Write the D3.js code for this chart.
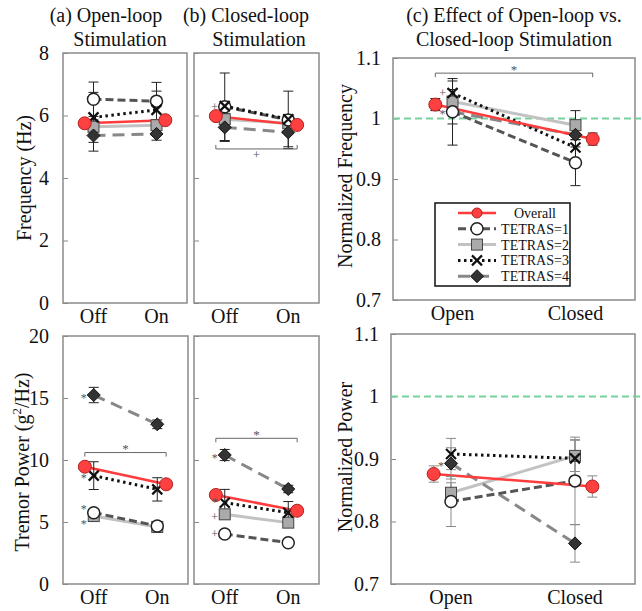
<!DOCTYPE html>
<html><head><meta charset="utf-8">
<script src="https://cdn.jsdelivr.net/npm/d3@7"></script>
<style>
body{margin:0;background:#fff}
svg{display:block}
</style>
</head><body>
<svg id="chart" width="642" height="611" font-family="'Liberation Serif', 'Times New Roman', Times, 'DejaVu Serif', serif"></svg>
<script>
// ---------------- DATA ----------------
const seriesNames = ["Overall", "TETRAS=1", "TETRAS=2", "TETRAS=3", "TETRAS=4"];
const stimCats = ["Off", "On"];
const loopCats = ["Open", "Closed"];
const freqTicks = [0, 2, 4, 6, 8];
const powerTicks = [0, 5, 10, 15, 20];
const normTicks = [0.7, 0.8, 0.9, 1.0, 1.1];

// values: [series][category]
const freqOpenVals   = [[5.75, 5.85], [6.52, 6.46], [5.64, 5.69], [5.94, 6.18], [5.36, 5.41]];
const freqOpenErr    = [[0, 0], [0.55, 0.6], [0.1, 0.1], [0.8, 0.6], [0.5, 0.2]];
const freqClosedVals = [[5.98, 5.70], [6.28, 5.86], [5.88, 5.75], [6.30, 5.88], [5.62, 5.46]];
const freqClosedErr  = [[0, 0], [1.08, 0.92], [0.1, 0.1], [0.15, 0.15], [0.45, 0.46]];
const freqNormVals   = [[1.023, 0.966], [1.011, 0.927], [1.028, 0.989], [1.042, 0.952], [1.011, 0.973]];
const freqNormErr    = [[0.01, 0.01], [0.055, 0.038], [0.02, 0.024], [0.02, 0.02], [0.02, 0.02]];

const powOpenVals    = [[9.46, 8.04], [5.75, 4.68], [5.48, 4.60], [8.74, 7.63], [15.24, 12.88]];
const powOpenErr     = [[0, 0], [0.2, 0.15], [0.15, 0.15], [1.12, 0.94], [0.62, 0.35]];
const powClosedVals  = [[7.18, 5.91], [4.03, 3.33], [5.62, 4.95], [6.56, 5.75], [10.40, 7.66]];
const powClosedErr   = [[0, 0], [0.15, 0.15], [0.1, 0.1], [1.07, 0.9], [0.45, 0.3]];
const powNormVals    = [[0.876, 0.856], [0.832, 0.865], [0.846, 0.905], [0.908, 0.901], [0.893, 0.765]];
const powNormErr     = [[0.013, 0.017], [0.04, 0.07], [0.016, 0.025], [0.025, 0.03], [0.025, 0.03]];

// significance marks next to a point: [symbol, series index, category index]
const freqClosedMarks = [["+", 1, 0]];
const freqNormMarks   = [["+", 3, 0], ["*", 1, 0]];
const powOpenMarks    = [["*", 4, 0], ["*", 3, 0], ["*", 1, 0], ["*", 2, 0]];
const powClosedMarks  = [["*", 4, 0], ["*", 3, 0], ["+", 2, 0], ["+", 1, 0]];
const powNormMarks    = [["*", 4, 0]];

// brackets: [symbol, y value, direction]
const freqClosedBracket = ["+", 4.93, "below"];
const freqNormBracket   = ["*", 1.075, "above"];
const powOpenBracket    = ["*", 10.6, "above"];
const powClosedBracket  = ["*", 11.75, "above"];

// ---------------- STYLES ----------------
const FONT = "'Liberation Serif', 'Times New Roman', Times, 'DejaVu Serif', serif";
const styles = [
  {color: "#ff3b3b", width: 2.5, dash: null, marker: "bigcircle"},
  {color: "#555555", width: 3, dash: "8,4", marker: "circle"},
  {color: "#c2c2c2", width: 3, dash: null, marker: "square"},
  {color: "#111111", width: 3, dash: "2.5,3.5", marker: "cross"},
  {color: "#888888", width: 3, dash: "12,7", marker: "diamond"}
];
const drawOrder = [2, 4, 1, 3, 0];

const svg = d3.select("#chart");

function txt(parent) {
  return parent.append("text").style("font-family", FONT);
}

function drawMarker(g, type, cx, cy) {
  if (type === "bigcircle") {
    g.append("circle").attr("cx", cx).attr("cy", cy).attr("r", 6.5)
      .attr("fill", "#ff4040").attr("stroke", "#b02020").attr("stroke-width", 1);
  } else if (type === "circle") {
    g.append("circle").attr("cx", cx).attr("cy", cy).attr("r", 6)
      .attr("fill", "#fff").attr("stroke", "#222").attr("stroke-width", 1.5);
  } else if (type === "square") {
    g.append("rect").attr("x", cx - 5.5).attr("y", cy - 5.5).attr("width", 11).attr("height", 11)
      .attr("fill", "#aaaaaa").attr("stroke", "#444").attr("stroke-width", 1);
  } else if (type === "cross") {
    const s = 5;
    g.append("path").attr("d", `M${cx - s},${cy - s}L${cx + s},${cy + s}M${cx - s},${cy + s}L${cx + s},${cy - s}`)
      .attr("stroke", "#111").attr("stroke-width", 2.2).attr("fill", "none");
  } else if (type === "diamond") {
    const s = 6.5;
    g.append("path").attr("d", `M${cx},${cy - s}L${cx + s},${cy}L${cx},${cy + s}L${cx - s},${cy}Z`)
      .attr("fill", "#333").attr("stroke", "#111").attr("stroke-width", 1);
  }
}

function symBaseline(sym, cy) { return cy + (sym === "*" ? 6.5 : 4); }

function panel(cfg) {
  const g = svg.append("g");
  const x = d3.scalePoint().domain(cfg.cats).range([cfg.x0, cfg.x1]).padding(0.484);
  const y = d3.scaleLinear().domain(cfg.domain).range([cfg.y1, cfg.y0]);
  const step = x.step();
  const px = (si, ci) => x(cfg.cats[ci]) + (si === 0 ? (ci === 0 ? -1 : 1) * 0.14 * step : 0);

  // axis
  const ax = d3.axisLeft(y).tickValues(cfg.ticks).tickSizeInner(-5).tickSizeOuter(0)
    .tickPadding(cfg.tickPad).tickFormat(cfg.showLabels ? cfg.fmt : "");
  const ag = g.append("g").attr("transform", `translate(${cfg.x0},0)`).call(ax);
  ag.attr("font-family", null).attr("font-size", null);
  ag.select(".domain").remove();
  ag.selectAll(".tick line").attr("stroke", "#888").attr("stroke-width", 1);
  ag.selectAll(".tick text").attr("font-size", 20).attr("fill", "#111")
    .style("font-family", FONT);

  // frame
  g.append("rect").attr("x", cfg.x0).attr("y", cfg.y0)
    .attr("width", cfg.x1 - cfg.x0).attr("height", cfg.y1 - cfg.y0)
    .attr("fill", "none").attr("stroke", "#8a8a8a").attr("stroke-width", 1.5);

  // reference line
  if (cfg.refLine !== undefined) {
    g.append("line").attr("x1", cfg.x0).attr("x2", 641)
      .attr("y1", y(cfg.refLine)).attr("y2", y(cfg.refLine))
      .attr("stroke", "#74d39c").attr("stroke-width", 2).attr("stroke-dasharray", "7,4");
  }

  // lines
  drawOrder.forEach(si => {
    const st = styles[si];
    const line = d3.line().x((d, ci) => px(si, ci)).y(d => y(d));
    g.append("path").attr("d", line(cfg.vals[si])).attr("fill", "none")
      .attr("stroke", st.color).attr("stroke-width", st.width)
      .attr("stroke-dasharray", st.dash);
  });

  // error bars
  drawOrder.forEach(si => {
    cfg.vals[si].forEach((v, ci) => {
      const e = cfg.errs[si][ci];
      if (!e) return;
      const cx = px(si, ci), ya = y(v - e), yb = y(v + e);
      g.append("path").attr("d", `M${cx},${ya}V${yb}M${cx - 5},${ya}H${cx + 5}M${cx - 5},${yb}H${cx + 5}`)
        .attr("stroke", cfg.errColor).attr("stroke-width", 1).attr("fill", "none");
    });
  });

  // markers
  drawOrder.forEach(si => {
    cfg.vals[si].forEach((v, ci) => drawMarker(g, styles[si].marker, px(si, ci), y(v)));
  });

  // significance marks: baselines spread apart symmetrically when two nearly coincide
  const MIN_GAP = 15;
  const placed = (cfg.marks || []).map(([sym, si, ci]) =>
    ({sym, x: px(si, ci) - 10, b: symBaseline(sym, y(cfg.vals[si][ci]))}));
  for (let i = 0; i < placed.length; i++) {
    for (let j = 0; j < i; j++) {
      const a = placed[j], c = placed[i];
      if (Math.abs(a.x - c.x) < 8 && Math.abs(a.b - c.b) < MIN_GAP) {
        const mid = (a.b + c.b) / 2, sgn = c.b >= a.b ? 1 : -1;
        a.b = mid - sgn * MIN_GAP / 2;
        c.b = mid + sgn * MIN_GAP / 2;
      }
    }
  }
  placed.forEach(p => {
    txt(g).attr("x", p.x).attr("y", p.b)
      .attr("text-anchor", "middle").attr("font-size", 12).attr("fill", "#555").text(p.sym);
  });

  // bracket
  if (cfg.bracket) {
    const [sym, val, dir] = cfg.bracket;
    const xa = px(0, 0), xb = px(0, 1), by = y(val);
    const d = dir === "above" ? 4 : -4;
    g.append("path").attr("d", `M${xa},${by + d}V${by}H${xb}V${by + d}`)
      .attr("fill", "none").attr("stroke", "#666").attr("stroke-width", 1);
    const cy = dir === "above" ? by - 6 : by + 6;
    txt(g).attr("x", (xa + xb) / 2).attr("y", symBaseline(sym, cy))
      .attr("text-anchor", "middle").attr("font-size", 13).attr("fill", "#555").text(sym);
  }

  // x labels
  cfg.cats.forEach(c => {
    txt(g).attr("x", x(c)).attr("y", cfg.y1 + 20).attr("text-anchor", "middle")
      .attr("font-size", 20).attr("fill", "#111").text(c);
  });
  return {g, x, y};
}

const fmtInt = d3.format("d");
const fmtNorm = d => (d === 1 ? "1" : d3.format(".1f")(d));

panel({x0: 63, x1: 187, y0: 53, y1: 303, domain: [0, 8], ticks: freqTicks, fmt: fmtInt, showLabels: true, tickPad: 14,
  cats: stimCats, vals: freqOpenVals, errs: freqOpenErr, errColor: "#222"});
panel({x0: 194, x1: 319, y0: 53, y1: 303, domain: [0, 8], ticks: freqTicks, fmt: fmtInt, showLabels: false, tickPad: 14,
  cats: stimCats, vals: freqClosedVals, errs: freqClosedErr, errColor: "#222",
  marks: freqClosedMarks, bracket: freqClosedBracket});
panel({x0: 393, x1: 635, y0: 58, y1: 300, domain: [0.7, 1.1], ticks: normTicks, fmt: fmtNorm, showLabels: true, tickPad: 12,
  cats: loopCats, vals: freqNormVals, errs: freqNormErr, errColor: "#222", refLine: 1.0,
  marks: freqNormMarks, bracket: freqNormBracket});

panel({x0: 63, x1: 188, y0: 336, y1: 584, domain: [0, 20], ticks: powerTicks, fmt: fmtInt, showLabels: true, tickPad: 14,
  cats: stimCats, vals: powOpenVals, errs: powOpenErr, errColor: "#222",
  marks: powOpenMarks, bracket: powOpenBracket});
panel({x0: 194, x1: 319, y0: 336, y1: 584, domain: [0, 20], ticks: powerTicks, fmt: fmtInt, showLabels: false, tickPad: 14,
  cats: stimCats, vals: powClosedVals, errs: powClosedErr, errColor: "#222",
  marks: powClosedMarks, bracket: powClosedBracket});
panel({x0: 391, x1: 635, y0: 334, y1: 584, domain: [0.7, 1.1], ticks: normTicks, fmt: fmtNorm, showLabels: true, tickPad: 12,
  cats: loopCats, vals: powNormVals, errs: powNormErr, errColor: "#8a8a8a", refLine: 1.0,
  marks: powNormMarks});

// titles
const titles = [
  ["(a) Open-loop", 106, 22], ["Stimulation", 120, 46],
  ["(b) Closed-loop", 246, 22], ["Stimulation", 259, 46],
  ["(c) Effect of Open-loop vs.", 514, 22], ["Closed-loop Stimulation", 514, 46]
];
titles.forEach(([t, x, y]) => txt(svg).attr("x", x).attr("y", y).attr("text-anchor", "middle")
  .attr("font-size", 20).attr("fill", "#111").text(t));

// y-axis labels
function yLabel(cx, cy, build) {
  const t = txt(svg).attr("transform", `translate(${cx},${cy}) rotate(-90)`)
    .attr("text-anchor", "middle").attr("font-size", 20).attr("fill", "#111");
  build(t);
}
yLabel(31, 178, t => t.text("Frequency (Hz)"));
yLabel(29, 462, t => {
  t.append("tspan").text("Tremor Power (g");
  t.append("tspan").attr("font-size", 13).attr("dy", -8).text("2");
  t.append("tspan").attr("dy", 8).text("/Hz)");
});
yLabel(352, 176, t => t.text("Normalized Frequency"));
yLabel(352, 457, t => t.text("Normalized Power"));

// legend
const lg = svg.append("g");
lg.append("rect").attr("x", 435).attr("y", 203).attr("width", 135).attr("height", 83)
  .attr("fill", "#fff").attr("stroke", "#111").attr("stroke-width", 1.5);
seriesNames.forEach((name, si) => {
  const ly = 213 + si * 15.8;
  const st = styles[si];
  lg.append("line").attr("x1", 458).attr("x2", 496).attr("y1", ly).attr("y2", ly)
    .attr("stroke", st.color).attr("stroke-width", st.width).attr("stroke-dasharray", st.dash);
  const mg = lg.append("g");
  drawMarker(mg, st.marker, 477, ly);
  if (si === 0) mg.select("circle").attr("r", 5);
  txt(lg).attr("x", 535).attr("y", ly + 5).attr("text-anchor", "middle")
    .attr("font-size", 14).attr("fill", "#111").text(name);
});
</script>
</body></html>
